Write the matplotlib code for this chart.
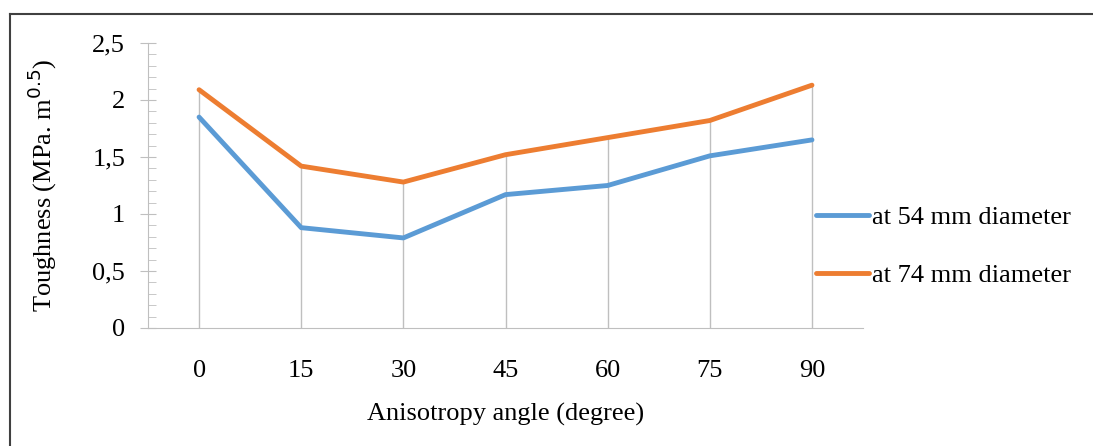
import matplotlib.pyplot as plt
from matplotlib.lines import Line2D
from matplotlib.ticker import FuncFormatter, MultipleLocator

plt.rcParams['font.family'] = ['Liberation Serif', 'DejaVu Serif']

angles = ['0', '15', '30', '45', '60', '75', '90']
d54 = [1.85, 0.88, 0.79, 1.17, 1.25, 1.51, 1.65]
d74 = [2.09, 1.42, 1.28, 1.52, 1.67, 1.82, 2.13]

fig = plt.figure(figsize=(10.93, 4.46), dpi=100)
ax = fig.add_axes([0.1354, 0.2646, 0.6542, 0.639])

x = range(len(angles))
tops = [max(a, b) for a, b in zip(d54, d74)]
ax.vlines(x, 0, tops, color='#bfbfbf', lw=1, zorder=1)

ax.plot(x, d54, color='#5B9BD5', lw=3.5, label='at 54 mm diameter', zorder=3, solid_capstyle='round')
ax.plot(x, d74, color='#ED7D31', lw=3.5, label='at 74 mm diameter', zorder=3, solid_capstyle='round')

ax.set_xlim(-0.5, 6.5)
ax.set_ylim(0, 2.5)
ax.set_xticks(list(x))
ax.set_xticklabels(angles)
ax.yaxis.set_major_locator(MultipleLocator(0.5))
ax.yaxis.set_minor_locator(MultipleLocator(0.1))
ax.yaxis.set_major_formatter(FuncFormatter(lambda v, p: f'{v:g}'.replace('.', ',')))

for s in ['top', 'right']:
    ax.spines[s].set_visible(False)
ax.spines['left'].set_color('#bfbfbf')
ax.spines['bottom'].set_color('#bfbfbf')

ax.tick_params(axis='x', length=0, pad=23, labelsize=19)
ax.tick_params(axis='y', which='major', direction='inout', length=11, color='#bfbfbf', pad=11, labelsize=19)
ax.tick_params(axis='y', which='minor', direction='in', length=6, color='#bfbfbf')

ax.set_xlabel('Anisotropy angle (degree)', fontsize=19, labelpad=15)
ax.set_ylabel('Toughness (MPa. m$^{0.5}$)', fontsize=19, labelpad=24)

fig.legend(loc='center left', bbox_to_anchor=(0.7347, 0.447), frameon=False,
           fontsize=19, borderpad=0, handlelength=2.0, handletextpad=0.1, labelspacing=1.3)

# outer border (top and left only visible)
fig.add_artist(Line2D([0.00915, 1], [0.9686, 0.9686], color='#404040', lw=1.5, transform=fig.transFigure))
fig.add_artist(Line2D([0.00915, 0.00915], [0, 0.9686], color='#404040', lw=1.5, transform=fig.transFigure))

fig.savefig('out.png', dpi=100)
